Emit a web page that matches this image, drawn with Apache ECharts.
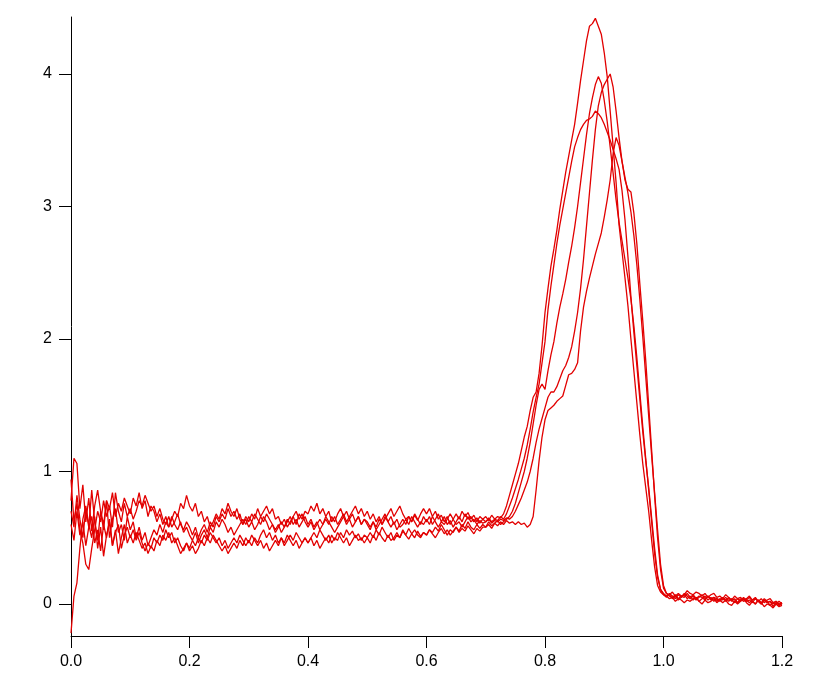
<!DOCTYPE html>
<html>
<head>
<meta charset="utf-8">
<script src="https://cdn.jsdelivr.net/npm/echarts@6/dist/echarts.min.js"></script>
<style>
html,body{margin:0;padding:0;background:#fff;}
#chart{width:820px;height:693px;}
</style>
</head>
<body>
<div id="chart"></div>
<script>
// sample spacing along x (data units)
const X_STEP = 0.005;
const xTicks = [0, 0.2, 0.4, 0.6, 0.8, 1.0, 1.2];
const yTicks = [0, 1, 2, 3, 4];

// five traces, one value every 0.005 from 0 to 1.2
const traceA = [
0.78,1.1,1.06,0.72,0.9,0.62,0.8,0.55,0.74,0.86,0.7,0.6,0.78,0.72,0.84,0.66,0.76,0.7,0.8,0.74,
0.68,0.8,0.74,0.84,0.72,0.78,0.66,0.74,0.7,0.62,0.68,0.6,0.66,0.58,0.64,0.7,0.66,0.76,0.72,0.82,
0.74,0.7,0.76,0.66,0.7,0.62,0.66,0.58,0.62,0.68,0.64,0.72,0.68,0.76,0.7,0.66,0.72,0.64,0.6,0.66,
0.62,0.68,0.64,0.72,0.66,0.7,0.74,0.68,0.72,0.64,0.66,0.6,0.64,0.58,0.62,0.66,0.6,0.68,0.64,0.7,
0.68,0.74,0.7,0.76,0.68,0.72,0.66,0.7,0.62,0.66,0.6,0.64,0.68,0.62,0.66,0.7,0.74,0.68,0.72,0.66,
0.7,0.64,0.68,0.62,0.66,0.6,0.64,0.68,0.72,0.66,0.7,0.74,0.68,0.64,0.66,0.62,0.67,0.63,0.68,0.72,
0.68,0.72,0.66,0.7,0.64,0.67,0.62,0.66,0.6,0.64,0.68,0.64,0.7,0.66,0.69,0.64,0.67,0.62,0.66,0.64,
0.66,0.63,0.67,0.64,0.66,0.65,0.68,0.74,0.82,0.9,0.98,1.06,1.16,1.26,1.34,1.46,1.56,1.6,1.74,1.95,
2.2,2.38,2.55,2.68,2.82,2.98,3.12,3.26,3.38,3.5,3.62,3.78,3.95,4.1,4.25,4.36,4.38,4.42,4.36,4.3,
4.16,3.98,3.72,3.45,3.18,2.86,2.66,2.46,2.25,2.0,1.76,1.52,1.28,1.06,0.88,0.7,0.48,0.28,0.14,0.09,
0.07,0.06,0.04,0.05,0.02,0.04,0.03,0.01,0.03,0.02,0.04,0.05,0.02,0.0,0.03,0.01,0.02,0.04,0.01,0.03,
0.01,0.03,0.0,-0.01,0.02,0.0,0.02,0.04,0.01,-0.01,0.02,0.0,0.03,0.01,-0.02,0.0,-0.01,-0.03,0.0,-0.02,
-0.01
];
const traceB = [
0.6,0.48,0.7,0.52,0.62,0.44,0.58,0.66,0.46,0.56,0.4,0.6,0.5,0.64,0.44,0.54,0.6,0.42,0.52,0.58,
0.5,0.56,0.48,0.54,0.46,0.4,0.46,0.42,0.5,0.46,0.52,0.48,0.56,0.5,0.54,0.46,0.5,0.44,0.4,0.46,
0.42,0.48,0.44,0.5,0.46,0.52,0.48,0.54,0.5,0.46,0.5,0.44,0.48,0.42,0.46,0.5,0.46,0.52,0.48,0.44,
0.48,0.44,0.5,0.46,0.52,0.56,0.5,0.54,0.48,0.52,0.46,0.5,0.44,0.48,0.52,0.48,0.54,0.5,0.46,0.5,
0.46,0.5,0.54,0.5,0.56,0.52,0.48,0.52,0.46,0.5,0.48,0.54,0.5,0.56,0.52,0.55,0.5,0.53,0.48,0.52,
0.5,0.54,0.5,0.56,0.52,0.58,0.54,0.5,0.54,0.48,0.52,0.5,0.55,0.52,0.57,0.53,0.56,0.52,0.5,0.54,
0.52,0.56,0.54,0.58,0.55,0.6,0.56,0.52,0.56,0.54,0.58,0.55,0.6,0.57,0.62,0.58,0.56,0.6,0.57,0.6,
0.58,0.62,0.59,0.61,0.63,0.6,0.62,0.64,0.66,0.7,0.76,0.84,0.92,1.0,1.1,1.22,1.36,1.5,1.62,1.66,
1.62,1.76,1.88,1.98,2.12,2.24,2.34,2.45,2.58,2.7,2.84,3.0,3.18,3.36,3.54,3.7,3.82,3.92,3.98,3.93,
3.8,3.64,3.45,3.25,3.05,2.88,2.74,2.6,2.46,2.3,2.1,1.86,1.6,1.34,1.1,0.86,0.62,0.38,0.2,0.11,
0.07,0.05,0.08,0.06,0.04,0.07,0.05,0.08,0.06,0.04,0.06,0.03,0.05,0.07,0.04,0.06,0.03,0.05,0.04,0.02,
0.04,0.03,0.05,0.02,0.04,0.01,0.03,0.04,0.02,0.03,0.01,0.04,0.02,0.0,0.03,0.01,0.02,-0.02,0.01,-0.01,
0.0
];
const traceC = [
0.94,0.62,0.76,0.56,0.46,0.3,0.26,0.42,0.56,0.7,0.62,0.78,0.66,0.74,0.58,0.84,0.7,0.62,0.76,0.66,
0.72,0.64,0.7,0.78,0.74,0.82,0.76,0.7,0.74,0.66,0.72,0.64,0.6,0.66,0.58,0.62,0.68,0.6,0.56,0.62,
0.58,0.52,0.58,0.5,0.56,0.6,0.54,0.62,0.58,0.66,0.62,0.68,0.64,0.72,0.66,0.7,0.64,0.68,0.6,0.64,
0.58,0.62,0.56,0.6,0.66,0.62,0.68,0.64,0.6,0.56,0.6,0.54,0.58,0.62,0.66,0.6,0.64,0.58,0.62,0.66,
0.6,0.64,0.58,0.62,0.56,0.6,0.64,0.6,0.66,0.62,0.68,0.72,0.66,0.7,0.64,0.68,0.62,0.66,0.6,0.64,
0.6,0.56,0.62,0.58,0.64,0.6,0.66,0.62,0.58,0.62,0.56,0.6,0.64,0.6,0.66,0.62,0.68,0.64,0.6,0.66,
0.62,0.66,0.6,0.64,0.68,0.62,0.66,0.6,0.63,0.58,0.62,0.66,0.62,0.68,0.64,0.66,0.62,0.65,0.61,0.64,
0.62,0.65,0.62,0.64,0.63,0.66,0.64,0.68,0.74,0.8,0.87,0.94,1.02,1.1,1.2,1.32,1.45,1.56,1.66,1.82,
1.98,2.22,2.4,2.56,2.72,2.86,2.98,3.1,3.22,3.34,3.45,3.52,3.58,3.62,3.65,3.66,3.68,3.72,3.7,3.67,
3.62,3.56,3.5,3.43,3.36,3.28,3.12,2.9,2.62,2.32,2.05,1.8,1.55,1.3,1.08,0.88,0.65,0.42,0.22,0.11,
0.08,0.06,0.07,0.04,0.06,0.03,0.05,0.07,0.04,0.06,0.03,0.05,0.02,0.04,0.06,0.03,0.05,0.02,0.04,0.03,
0.05,0.02,0.04,0.03,0.01,0.04,0.02,0.05,0.03,0.01,0.03,0.04,0.02,0.0,0.03,0.01,0.02,0.0,0.02,-0.01,
0.01
];
const traceD = [
0.7,0.58,0.82,0.64,0.5,0.72,0.58,0.86,0.62,0.48,0.7,0.56,0.78,0.5,0.64,0.72,0.54,0.6,0.48,0.66,
0.56,0.62,0.5,0.58,0.48,0.54,0.44,0.5,0.56,0.52,0.6,0.54,0.62,0.58,0.66,0.6,0.56,0.62,0.54,0.58,
0.52,0.48,0.54,0.46,0.52,0.56,0.5,0.58,0.54,0.62,0.58,0.64,0.6,0.54,0.58,0.52,0.56,0.6,0.64,0.6,
0.66,0.62,0.68,0.64,0.6,0.66,0.62,0.56,0.6,0.54,0.58,0.62,0.58,0.64,0.6,0.66,0.7,0.64,0.68,0.62,
0.58,0.62,0.56,0.6,0.64,0.6,0.66,0.62,0.58,0.54,0.58,0.62,0.66,0.6,0.64,0.58,0.62,0.66,0.6,0.64,
0.62,0.58,0.62,0.56,0.6,0.64,0.68,0.62,0.66,0.6,0.64,0.58,0.6,0.64,0.6,0.66,0.62,0.58,0.62,0.6,
0.64,0.6,0.66,0.62,0.58,0.62,0.6,0.64,0.68,0.64,0.6,0.62,0.58,0.62,0.66,0.62,0.64,0.6,0.63,0.61,
0.62,0.64,0.61,0.63,0.62,0.64,0.63,0.65,0.64,0.66,0.7,0.75,0.8,0.86,0.92,1.0,1.1,1.22,1.32,1.4,
1.48,1.56,1.6,1.6,1.64,1.7,1.76,1.8,1.86,1.94,2.06,2.2,2.38,2.6,2.85,3.1,3.35,3.58,3.76,3.86,
3.92,3.96,4.0,3.9,3.72,3.52,3.34,3.2,3.13,3.11,2.95,2.72,2.42,2.14,1.84,1.5,1.16,0.82,0.5,0.26,
0.12,0.08,0.06,0.05,0.07,0.04,0.06,0.05,0.08,0.05,0.07,0.04,0.06,0.05,0.03,0.06,0.04,0.05,0.02,0.04,
0.03,0.05,0.02,0.04,0.03,0.01,0.04,0.02,0.03,0.05,0.02,0.0,0.03,0.01,0.04,0.02,-0.01,0.01,0.0,0.02,
0.0
];
const traceE = [
-0.22,0.06,0.16,0.42,0.64,0.74,0.6,0.5,0.66,0.42,0.58,0.36,0.52,0.62,0.44,0.56,0.38,0.5,0.6,0.46,
0.52,0.46,0.54,0.48,0.42,0.46,0.38,0.44,0.4,0.48,0.44,0.52,0.48,0.54,0.46,0.5,0.44,0.38,0.42,0.46,
0.4,0.44,0.38,0.42,0.48,0.44,0.5,0.46,0.52,0.48,0.44,0.4,0.44,0.38,0.42,0.46,0.42,0.48,0.44,0.5,
0.46,0.52,0.48,0.44,0.48,0.42,0.46,0.4,0.44,0.48,0.44,0.5,0.46,0.52,0.48,0.44,0.48,0.42,0.46,0.5,
0.46,0.5,0.44,0.48,0.42,0.46,0.5,0.46,0.52,0.48,0.54,0.5,0.46,0.5,0.44,0.48,0.52,0.48,0.5,0.46,
0.5,0.46,0.52,0.48,0.54,0.5,0.47,0.52,0.48,0.5,0.54,0.5,0.56,0.52,0.49,0.53,0.5,0.55,0.51,0.54,
0.52,0.56,0.53,0.5,0.54,0.57,0.53,0.56,0.52,0.55,0.58,0.54,0.57,0.55,0.59,0.56,0.53,0.57,0.55,0.58,
0.58,0.6,0.57,0.61,0.59,0.62,0.6,0.63,0.61,0.62,0.6,0.62,0.6,0.61,0.58,0.6,0.66,0.86,1.08,1.26,
1.39,1.46,1.48,1.5,1.53,1.55,1.57,1.65,1.73,1.74,1.77,1.82,2.06,2.24,2.36,2.46,2.55,2.64,2.72,2.8,
2.92,3.05,3.2,3.4,3.52,3.46,3.34,3.22,3.1,2.96,2.78,2.56,2.3,2.02,1.72,1.42,1.12,0.84,0.56,0.3,
0.14,0.08,0.07,0.09,0.06,0.08,0.06,0.07,0.1,0.08,0.07,0.09,0.08,0.06,0.08,0.05,0.07,0.08,0.05,0.06,
0.04,0.07,0.05,0.03,0.06,0.04,0.05,0.03,0.04,0.06,0.03,0.05,0.02,0.04,0.01,0.03,0.04,0.01,0.02,0.0,
0.01
];

const traces = [traceA, traceB, traceC, traceD, traceE];

function toPairs(vals) {
  return vals.map((v, i) => [Math.round(i * X_STEP * 1000) / 1000, v]);
}

const chart = echarts.init(document.getElementById('chart'), null, {renderer: 'canvas'});
const FONT = 'Liberation Sans, Arial, Helvetica, sans-serif';

chart.setOption({
  animation: false,
  backgroundColor: '#ffffff',
  grid: {left: 71, right: 38, top: 17, bottom: 57, containLabel: false},
  xAxis: {
    type: 'value',
    min: 0, max: 1.2, interval: 0.2,
    axisLine: {show: true, onZero: false, lineStyle: {color: '#000', width: 1}},
    axisTick: {show: true, inside: false, length: 12, lineStyle: {color: '#000', width: 1}},
    axisLabel: {
      margin: 18, color: '#000', fontSize: 16, fontFamily: FONT,
      customValues: xTicks,
      formatter: v => v.toFixed(1)
    },
    splitLine: {show: false}
  },
  yAxis: {
    type: 'value',
    min: -0.2415, max: 4.43,
    axisLine: {show: true, onZero: false, lineStyle: {color: '#000', width: 1}},
    axisTick: {show: true, inside: false, length: 12, customValues: yTicks, lineStyle: {color: '#000', width: 1}},
    axisLabel: {
      margin: 19, color: '#000', fontSize: 16, fontFamily: FONT,
      customValues: yTicks,
      formatter: v => String(v)
    },
    splitLine: {show: false}
  },
  series: traces.map(t => ({
    type: 'line',
    data: toPairs(t),
    showSymbol: false,
    symbol: 'none',
    clip: false,
    lineStyle: {color: '#e20000', width: 1.3},
    emphasis: {disabled: true}
  }))
});
</script>
</body>
</html>
